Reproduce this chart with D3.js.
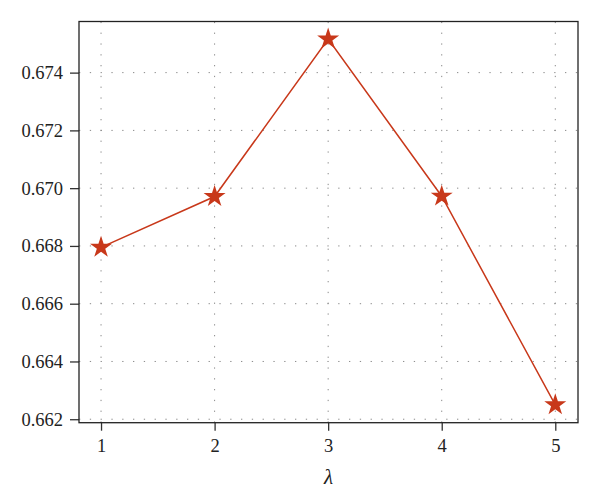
<!DOCTYPE html>
<html><head><meta charset="utf-8">
<script src="https://cdn.jsdelivr.net/npm/d3@7"></script>
<style>body{margin:0;background:#fff}svg{display:block}</style>
</head><body>
<script>
const categories = [1, 2, 3, 4, 5];
const values = [0.66795, 0.66971, 0.67516, 0.66972, 0.66250];
const yTicks = [0.662, 0.664, 0.666, 0.668, 0.670, 0.672, 0.674];
const xLabel = "λ";

const W = 600, H = 503;
const svg = d3.select("body").append("svg").attr("width", W).attr("height", H);
const x = d3.scaleLinear().domain([0.806, 5.2]).range([79, 578]);
const y = d3.scaleLinear().domain([0.66188, 0.67577]).range([422.7, 21.5]);
const font = "'Liberation Serif', serif";
const color = "#c8381a";
const gridC = "#8a8a8a";

// grid
svg.append("g").selectAll("line").data(yTicks).join("line")
  .attr("x1", x.range()[0]).attr("x2", x.range()[1])
  .attr("y1", d => y(d)).attr("y2", d => y(d))
  .attr("stroke", gridC).attr("stroke-width", 1).attr("stroke-dasharray", "1.3,9.5");
svg.append("g").selectAll("line").data(categories).join("line")
  .attr("x1", d => x(d)).attr("x2", d => x(d))
  .attr("y1", y.range()[0]).attr("y2", y.range()[1])
  .attr("stroke", gridC).attr("stroke-width", 1).attr("stroke-dasharray", "1.3,9.5");

// axes
const xAxis = d3.axisBottom(x).tickValues(categories).tickFormat(d3.format("d")).tickSize(8).tickSizeOuter(0).tickPadding(8);
const yAxis = d3.axisLeft(y).tickValues(yTicks).tickFormat(d3.format(".3f")).tickSize(9).tickSizeOuter(0).tickPadding(7);
const gx = svg.append("g").attr("transform", `translate(0,${y.range()[0]})`).call(xAxis);
const gy = svg.append("g").attr("transform", `translate(${x.range()[0]},0)`).call(yAxis);
[gx, gy].forEach(g => {
  g.select(".domain").remove();
  g.selectAll(".tick line").attr("stroke", "#333").attr("stroke-width", 1.3);
  g.selectAll(".tick text").attr("font-family", font).attr("font-size", 18.5).attr("fill", "#222");
});

// frame
svg.append("rect").attr("x", x.range()[0]).attr("y", y.range()[1])
  .attr("width", x.range()[1] - x.range()[0]).attr("height", y.range()[0] - y.range()[1])
  .attr("fill", "none").attr("stroke", "#222").attr("stroke-width", 1.3);

// line
const pts = categories.map((c, i) => [c, values[i]]);
svg.append("path").datum(pts)
  .attr("d", d3.line().x(d => x(d[0])).y(d => y(d[1])))
  .attr("fill", "none").attr("stroke", color).attr("stroke-width", 1.5);

// stars
const star = d3.symbol().type(d3.symbolStar).size(150);
svg.append("g").selectAll("path").data(pts).join("path")
  .attr("transform", d => `translate(${x(d[0])},${y(d[1])})`)
  .attr("d", star).attr("fill", color);

// x label
svg.append("text").attr("x", (x.range()[0] + x.range()[1]) / 2).attr("y", 484)
  .attr("text-anchor", "middle").attr("font-family", font).attr("font-style", "italic")
  .attr("font-size", 21).attr("fill", "#222").text(xLabel);
</script>
</body></html>
